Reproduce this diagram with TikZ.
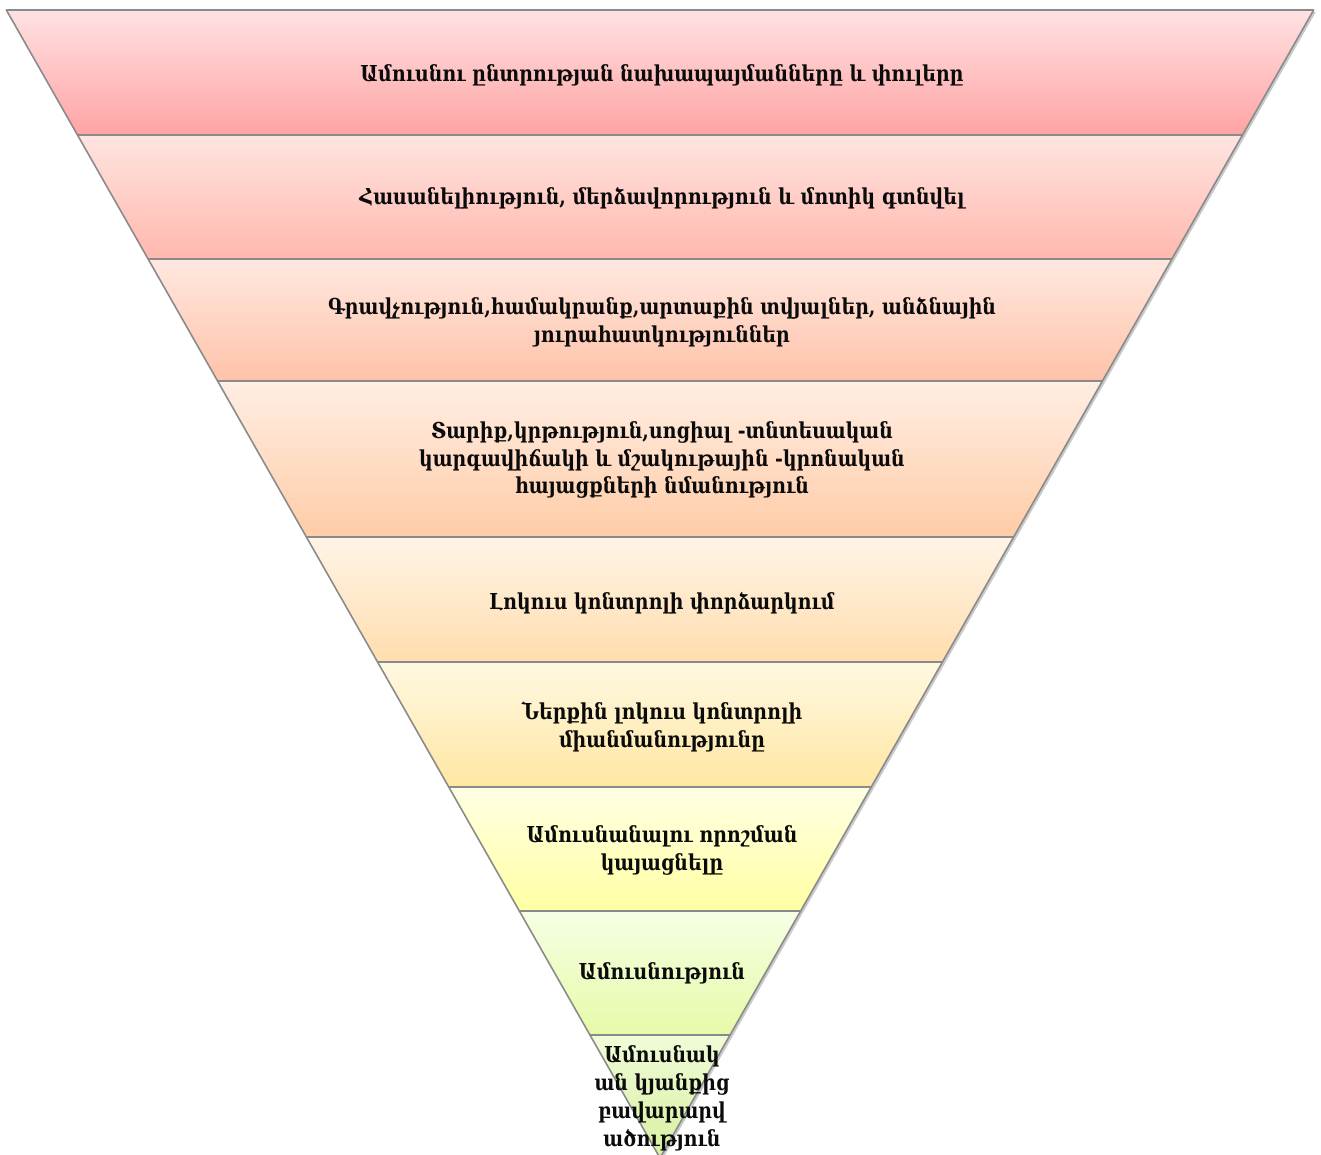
\documentclass[tikz,border=0pt]{standalone}
\usepackage{fontspec}
\setmainfont[FakeStretch=0.86]{DejaVu Serif}
\usepackage{tikz}
\usetikzlibrary{shadows}
\definecolor{bdedge}{HTML}{8A8A8A}
\definecolor{bdink}{HTML}{0B0B0B}
\definecolor{lvatop}{HTML}{FFE2E2}\definecolor{lvabot}{HTML}{FFA3A3}
\definecolor{lvbtop}{HTML}{FFE4E0}\definecolor{lvbbot}{HTML}{FFB8AE}
\definecolor{lvctop}{HTML}{FFE8E0}\definecolor{lvcbot}{HTML}{FFC2A8}
\definecolor{lvdtop}{HTML}{FFEEE4}\definecolor{lvdbot}{HTML}{FFCCA6}
\definecolor{lvetop}{HTML}{FFF4E6}\definecolor{lvebot}{HTML}{FFDDAE}
\definecolor{lvftop}{HTML}{FFF8E2}\definecolor{lvfbot}{HTML}{FFE7A2}
\definecolor{lvgtop}{HTML}{FFFFE4}\definecolor{lvgbot}{HTML}{FFFFA2}
\definecolor{lvhtop}{HTML}{F6FFE4}\definecolor{lvhbot}{HTML}{E6FAA8}
\definecolor{lvitop}{HTML}{F0FCD8}\definecolor{lvibot}{HTML}{D8F0A0}
\tikzset{
  layer/.style={draw=bdedge,line width=0.9pt,line join=round,
                drop shadow={shadow xshift=1.2pt,shadow yshift=-1.2pt,opacity=0.35,fill=black!60}},
  lab/.style={align=center,text=bdink,inner sep=0pt,
              font=\fontsize{12.5}{15.9}\selectfont\bfseries},
}
% left and right edge of the funnel at depth #1
\newcommand{\xl}[1]{{660-0.5694*(1158-#1)}}
\newcommand{\xr}[1]{{660+0.5694*(1158-#1)}}
\newcommand{\band}[4]{%
  \path[layer,top color=#3,bottom color=#4]
    (\xl{#1},#1) -- (\xr{#1},#1) -- (\xr{#2},#2) -- (\xl{#2},#2) -- cycle;}

\begin{document}
\begin{tikzpicture}[x=0.02cm,y=-0.02cm]
  \useasboundingbox (0,0) rectangle (1321,1155);
  \begin{scope}
    \clip (0,0) rectangle (1321,1155);
    \band{10}{135}{lvatop}{lvabot}
    \band{135}{259}{lvbtop}{lvbbot}
    \band{259}{381}{lvctop}{lvcbot}
    \band{381}{537}{lvdtop}{lvdbot}
    \band{537}{662}{lvetop}{lvebot}
    \band{662}{787}{lvftop}{lvfbot}
    \band{787}{911}{lvgtop}{lvgbot}
    \band{911}{1035}{lvhtop}{lvhbot}
    \path[layer,top color=lvitop,bottom color=lvibot]
      (\xl{1035},1035) -- (\xr{1035},1035) -- (660,1158) -- cycle;
  \end{scope}

  \node[lab] (stages) at (662,75) {Ամուսնու ընտրության նախապայմանները և փուլերը};
  \node[lab] (access) at (662,198) {Հասանելիություն, մերձավորություն և մոտիկ գտնվել};
  \node[lab] (charm)  at (662,322) {Գրավչություն,համակրանք,արտաքին տվյալներ, անձնային\\յուրահատկություններ};
  \node[lab] (alike)  at (662,460) {Տարիք,կրթություն,սոցիալ -տնտեսական\\կարգավիճակի և մշակութային -կրոնական\\հայացքների նմանություն};
  \node[lab] (locus)  at (662,603) {Լոկուս կոնտրոլի փորձարկում};
  \node[lab] (inner)  at (662,727) {Ներքին լոկուս կոնտրոլի\\միանմանությունը};
  \node[lab] (decide) at (662,850) {Ամուսնանալու որոշման\\կայացնելը};
  \node[lab] (wed)    at (662,973) {Ամուսնություն};
  \node[lab] (happy)  at (662,1098) {Ամուսնակ\\ան կյանքից\\բավարարվ\\ածություն};
\end{tikzpicture}
\end{document}
